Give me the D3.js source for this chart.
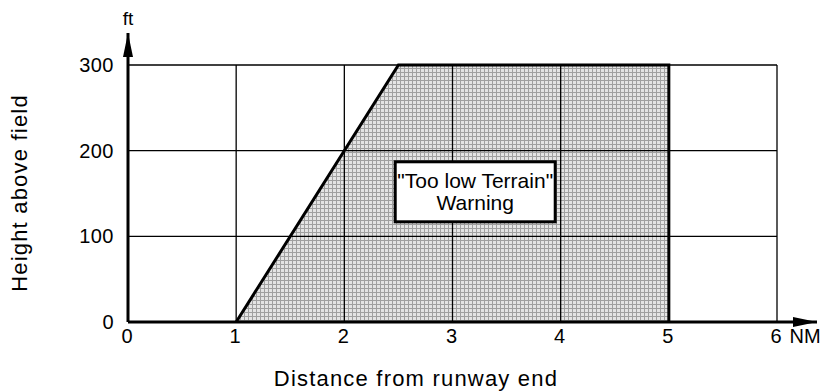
<!DOCTYPE html>
<html>
<head>
<meta charset="utf-8">
<script src="https://cdn.jsdelivr.net/npm/d3@7"></script>
<style>
  html, body { margin: 0; padding: 0; background: #fff; }
  svg { display: block; font-family: "Liberation Sans", Arial, Helvetica, sans-serif; }
</style>
</head>
<body>
<svg id="chart" width="820" height="392"></svg>
<script>
// Axis ticks
const distanceTicks = [0, 1, 2, 3, 4, 5, 6];
const heightTicks = [0, 100, 200, 300];

// Outline of the warning envelope (distance in NM, height in ft)
const envelopeDistance = [1, 2.5, 5, 5];
const envelopeHeight = [0, 300, 300, 0];

// Warning label, centred in the envelope
const warningLines = ['"Too low Terrain"', 'Warning'];
const warningAt = { distance: 3.21, height: 152 };

const svg = d3.select("#chart");

const x = d3.scaleLinear().domain([0, 6]).range([128, 777]);
const y = d3.scaleLinear().domain([0, 300]).range([322, 65]);

// Dotted grey fill pattern
const defs = svg.append("defs");
const pat = defs.append("pattern")
  .attr("id", "screen").attr("patternUnits", "userSpaceOnUse")
  .attr("width", 4).attr("height", 4);
pat.append("rect").attr("width", 4).attr("height", 4).attr("fill", "#e4e4e4");
pat.append("rect").attr("x", 0).attr("y", 0).attr("width", 4).attr("height", 1).attr("fill", "#a0a0a0");
pat.append("rect").attr("x", 0).attr("y", 0).attr("width", 1).attr("height", 4).attr("fill", "#a0a0a0");

defs.append("marker").attr("id", "arrowUp")
  .attr("viewBox", "0 0 10 24").attr("refX", 5).attr("refY", 0)
  .attr("markerUnits", "userSpaceOnUse").attr("markerWidth", 10).attr("markerHeight", 24)
  .attr("orient", "0")
  .append("path").attr("d", "M5,0 L10,24 L0,24 Z").attr("fill", "#000");
defs.append("marker").attr("id", "arrowRight")
  .attr("viewBox", "0 0 24 10").attr("refX", 24).attr("refY", 5)
  .attr("markerUnits", "userSpaceOnUse").attr("markerWidth", 24).attr("markerHeight", 10)
  .attr("orient", "0")
  .append("path").attr("d", "M24,5 L0,0 L0,10 Z").attr("fill", "#000");

// Envelope fill
const pts = envelopeDistance.map((d, i) => [x(d), y(envelopeHeight[i])]);
svg.append("path")
  .attr("d", d3.line()(pts) + "Z")
  .attr("fill", "url(#screen)");

// Grid
const grid = svg.append("g").attr("stroke", "#000").attr("stroke-width", 1.3);
grid.selectAll("line.v").data(distanceTicks.filter(d => d > 0)).join("line")
  .attr("x1", d => x(d)).attr("x2", d => x(d))
  .attr("y1", y(0)).attr("y2", y(300));
grid.selectAll("line.h").data(heightTicks.filter(d => d > 0)).join("line")
  .attr("x1", x(0)).attr("x2", x(6))
  .attr("y1", d => y(d)).attr("y2", d => y(d));

// Envelope outline (open along the ground)
svg.append("path")
  .attr("d", d3.line()(pts))
  .attr("fill", "none").attr("stroke", "#000").attr("stroke-width", 3)
  .attr("stroke-linejoin", "miter");

// Axes with arrows
svg.append("line")
  .attr("x1", x(0)).attr("x2", 817).attr("y1", y(0)).attr("y2", y(0))
  .attr("stroke", "#000").attr("stroke-width", 3).attr("marker-end", "url(#arrowRight)");
svg.append("line")
  .attr("x1", x(0)).attr("x2", x(0)).attr("y1", y(0)).attr("y2", 33)
  .attr("stroke", "#000").attr("stroke-width", 3).attr("marker-end", "url(#arrowUp)");

// Tick labels
svg.append("g").selectAll("text").data(distanceTicks).join("text")
  .attr("x", d => x(d) - 1).attr("y", y(0) + 21)
  .attr("text-anchor", "middle").attr("font-size", 20)
  .text(d => d);
svg.append("g").selectAll("text").data(heightTicks).join("text")
  .attr("x", x(0) - 14).attr("y", d => y(d) + 7)
  .attr("text-anchor", "end").attr("font-size", 20).attr("letter-spacing", 0.5)
  .text(d => d);

// Units
svg.append("text").attr("x", 805).attr("y", y(0) + 21)
  .attr("text-anchor", "middle").attr("font-size", 20).text("NM");
svg.append("text").attr("x", x(0)).attr("y", 25)
  .attr("text-anchor", "middle").attr("font-size", 19).text("ft");

// Axis titles
svg.append("text").attr("x", 416).attr("y", 386)
  .attr("text-anchor", "middle").attr("font-size", 22).attr("letter-spacing", 1.2)
  .text("Distance from runway end");
svg.append("text")
  .attr("transform", `translate(27,193) rotate(-90)`)
  .attr("text-anchor", "middle").attr("font-size", 22).attr("letter-spacing", 1.2)
  .text("Height above field");

// Warning label box
const cx = x(warningAt.distance), cy = y(warningAt.height);
svg.append("rect")
  .attr("x", cx - 80).attr("y", cy - 30).attr("width", 160).attr("height", 60)
  .attr("fill", "#fff").attr("stroke", "#000").attr("stroke-width", 3);
svg.append("g").selectAll("text").data(warningLines).join("text")
  .attr("x", cx).attr("y", (d, i) => cy - 4 + i * 22)
  .attr("text-anchor", "middle").attr("font-size", 21)
  .text(d => d);
</script>
</body>
</html>
